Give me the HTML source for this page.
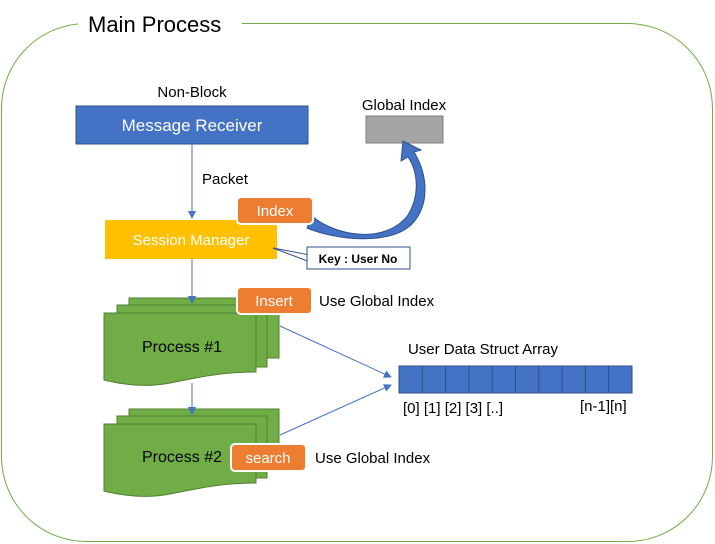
<!DOCTYPE html>
<html><head><meta charset="utf-8"><style>
html,body{margin:0;padding:0;background:#fff;}
svg{display:block;font-family:"Liberation Sans","Noto Sans CJK KR",sans-serif;}
</style></head><body>
<svg width="715" height="544" viewBox="0 0 715 544" xmlns="http://www.w3.org/2000/svg">
<defs>
<marker id="ah" markerWidth="8" markerHeight="8" refX="7" refY="4" orient="auto" markerUnits="userSpaceOnUse">
<path d="M0,0 L8,4 L0,8 z" fill="#4472c4"/></marker>
</defs>
<rect x="1.5" y="23.5" width="711" height="518" rx="85" ry="85" fill="none" stroke="#70ad47" stroke-width="1"/>
<rect x="78" y="10" width="164" height="28" fill="#fff"/>
<text x="88" y="32" font-size="22" fill="#000">Main Process</text>

<text x="192" y="97" font-size="15" text-anchor="middle">Non-Block</text>
<rect x="76" y="106" width="232" height="38" fill="#4472c4" stroke="#2f528f"/>
<text x="192" y="131" font-size="17" fill="#fff" text-anchor="middle">Message Receiver</text>

<text x="404" y="110" font-size="15" text-anchor="middle">Global Index</text>
<rect x="366" y="116" width="77" height="27" fill="#a5a5a5" stroke="#7f7f7f"/>

<line x1="192" y1="144" x2="192" y2="218" stroke="#4472c4" stroke-width="1" marker-end="url(#ah)"/>
<text x="202" y="184" font-size="15">Packet</text>

<rect x="105" y="220" width="172" height="39" fill="#ffc000"/>
<text x="191" y="245" font-size="15" fill="#fff" text-anchor="middle">Session Manager</text>

<!-- curved arrow -->
<path d="M312,216 C335,236 385,245 408,215 C420,195 418,172 408,157 L401,161 L403,141 L421,150 L414,152 C428,175 430,205 412,224 C390,246 335,240 307,228 Z" fill="#4472c4" stroke="#2f528f" stroke-width="1"/>

<rect x="237" y="197" width="76" height="27" rx="4" fill="#ed7d31" stroke="#fff" stroke-width="2"/>
<text x="275" y="216" font-size="15" fill="#fff" text-anchor="middle">Index</text>

<path d="M273,248 L310,255 L310,262 Z" fill="#fff" stroke="#2f528f" stroke-width="1"/>
<rect x="307" y="247" width="103" height="22" fill="#fff" stroke="#2f528f"/>
<text x="358" y="263" font-size="12" font-weight="bold" text-anchor="middle">Key : User No</text>

<!-- process 1 -->
<rect x="129" y="298" width="150" height="60" fill="#70ad47" stroke="#507e32"/>
<rect x="117" y="305" width="150" height="62" fill="#70ad47" stroke="#507e32"/>
<path d="M104,313 H256 V372 C220,372 195,378 170,383 C145,388 120,384 104,380 Z" fill="#70ad47" stroke="#507e32"/>
<text x="182" y="352" font-size="16" text-anchor="middle">Process #1</text>
<rect x="237" y="287" width="75" height="27" rx="4" fill="#ed7d31" stroke="#fff" stroke-width="2"/>
<text x="274" y="306" font-size="15" fill="#fff" text-anchor="middle">Insert</text>
<text x="319" y="306" font-size="15">Use Global Index</text>

<line x1="192" y1="259" x2="192" y2="303" stroke="#4472c4" marker-end="url(#ah)"/>

<!-- process 2 -->
<rect x="129" y="409" width="150" height="60" fill="#70ad47" stroke="#507e32"/>
<rect x="117" y="416" width="150" height="62" fill="#70ad47" stroke="#507e32"/>
<path d="M104,424 H256 V483 C220,483 195,489 170,494 C145,499 120,495 104,491 Z" fill="#70ad47" stroke="#507e32"/>
<text x="182" y="462" font-size="16" text-anchor="middle">Process #2</text>
<rect x="231" y="444" width="75" height="27" rx="4" fill="#ed7d31" stroke="#fff" stroke-width="2"/>
<text x="268" y="463" font-size="15" fill="#fff" text-anchor="middle">search</text>
<text x="315" y="463" font-size="15">Use Global Index</text>

<line x1="192" y1="383" x2="192" y2="414" stroke="#4472c4" marker-end="url(#ah)"/>

<line x1="280" y1="326" x2="391" y2="377" stroke="#4472c4" marker-end="url(#ah)"/>
<line x1="280" y1="435" x2="391" y2="385" stroke="#4472c4" marker-end="url(#ah)"/>

<text x="483" y="354" font-size="15" text-anchor="middle">User Data Struct Array</text>
<g fill="#4472c4" stroke="#2f528f">
<rect x="399" y="366" width="23.3" height="27"/><rect x="422.3" y="366" width="23.3" height="27"/>
<rect x="445.6" y="366" width="23.3" height="27"/><rect x="468.9" y="366" width="23.3" height="27"/>
<rect x="492.2" y="366" width="23.3" height="27"/><rect x="515.5" y="366" width="23.3" height="27"/>
<rect x="538.8" y="366" width="23.3" height="27"/><rect x="562.1" y="366" width="23.3" height="27"/>
<rect x="585.4" y="366" width="23.3" height="27"/><rect x="608.7" y="366" width="23.3" height="27"/>
</g>
<text x="403" y="413" font-size="15">[0] [1] [2] [3] [..]</text>
<text x="580" y="411" font-size="15">[n-1][n]</text>
</svg>
</body></html>
